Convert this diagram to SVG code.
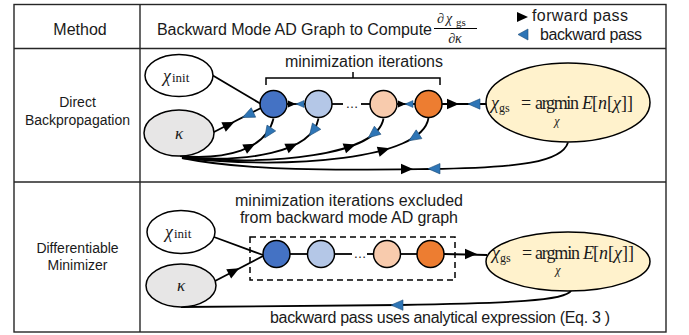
<svg xmlns="http://www.w3.org/2000/svg" xmlns:xlink="http://www.w3.org/1999/xlink" width="689" height="335" viewBox="0 0 689 335">
<defs>
<style>
.tbl{fill:none;stroke:#262626;stroke-width:1.4}
.lbl{font-family:"Liberation Sans",Arial,sans-serif;fill:#1a1a1a}
.m{font-family:"Liberation Serif","Times New Roman",serif;fill:#1a1a1a}
.it{font-style:italic}
.ln{fill:none;stroke:#000;stroke-width:1.8}
.nd{stroke:#000;stroke-width:1.5}
</style>
<polygon id="fw" points="-6,-5.2 6,0 -6,5.2" fill="#000"/>
<polygon id="bw" points="6,-5.2 -6,0 6,5.2" fill="#2e75b6" stroke="#1f4e79" stroke-width="0.6"/>
<polygon id="fws" points="-4,-3.5 4,0 -4,3.5" fill="#000"/>
<polygon id="bws" points="4,-3.5 -4,0 4,3.5" fill="#2e75b6" stroke="#1f4e79" stroke-width="0.5"/>
</defs>
<rect width="689" height="335" fill="#fff"/>

<!-- table -->
<g id="table">
<rect class="tbl" x="14" y="4.5" width="652" height="327.5"/>
<line class="tbl" x1="140" y1="4.5" x2="140" y2="332"/>
<line class="tbl" x1="14" y1="48.5" x2="666" y2="48.5"/>
<line class="tbl" x1="14" y1="182" x2="666" y2="182"/>
<text class="lbl" x="80" y="35" font-size="16" text-anchor="middle">Method</text>
<text class="lbl" x="157" y="35" font-size="16" textLength="275">Backward Mode AD Graph to Compute</text>
<text class="m" y="23" font-size="14"><tspan x="437">∂</tspan><tspan class="it" x="446">χ</tspan><tspan x="456" dy="2.5" font-size="11">gs</tspan></text>
<line x1="434" y1="28.5" x2="477" y2="28.5" stroke="#000" stroke-width="1"/>
<text class="m" x="455" y="43" font-size="14" text-anchor="middle">∂<tspan class="it">κ</tspan></text>
<polygon points="517,12 528,17 517,22" fill="#000"/>
<text class="lbl" x="532" y="21" font-size="16" textLength="96">forward pass</text>
<polygon points="528,29 518,34.5 528,40" fill="#2e75b6" stroke="#1f4e79" stroke-width="0.6"/>
<text class="lbl" x="540" y="40" font-size="16" textLength="102">backward pass</text>
<text class="lbl" x="77.5" y="107" font-size="14" text-anchor="middle">Direct</text>
<text class="lbl" x="77.5" y="125" font-size="14" text-anchor="middle">Backpropagation</text>
<text class="lbl" x="77.5" y="253" font-size="14" text-anchor="middle">Differentiable</text>
<text class="lbl" x="77.5" y="270" font-size="14" text-anchor="middle">Minimizer</text>
</g>

<!-- connectors -->
<g id="connectors">
<!-- top row -->
<line class="ln" x1="212" y1="75" x2="261" y2="104"/>
<line class="ln" x1="212" y1="133" x2="261" y2="108"/>
<path class="ln" d="M180 156 C225 160 266 150 273.5 118.5"/>
<path class="ln" d="M182 157 C245 163 312 153 318.5 118.5"/>
<path class="ln" d="M182 157 C270 166 377 156 383.5 118.5"/>
<path class="ln" d="M182 158 C290 169 422 160 428.5 118"/>
<path class="ln" d="M182 158 C250 172 350 170 430 169 C520 168 562 162 568 142.5"/>
<line class="ln" x1="287" y1="104" x2="305" y2="104"/>
<line class="ln" x1="332" y1="104" x2="343" y2="104"/>
<line class="ln" x1="361" y1="104" x2="370" y2="104"/>
<line class="ln" x1="397" y1="104" x2="415" y2="104"/>
<line class="ln" x1="442" y1="104" x2="486" y2="104"/>
<polyline fill="none" stroke="#000" stroke-width="1.5" points="266,85 266,78 440,78 440,85"/>
<line stroke="#000" stroke-width="1.5" x1="353" y1="78" x2="353" y2="72"/>
<use xlink:href="#fw" transform="translate(229,124.5) rotate(-25)"/>
<use xlink:href="#bw" transform="translate(248,115) rotate(-25)"/>
<use xlink:href="#fw" transform="translate(250,146.5) rotate(-27)"/>
<use xlink:href="#bw" transform="translate(268,133) rotate(-56)"/>
<use xlink:href="#fw" transform="translate(292,146) rotate(-24)"/>
<use xlink:href="#bw" transform="translate(313,131) rotate(-53)"/>
<use xlink:href="#fw" transform="translate(350,146.5) rotate(-19)"/>
<use xlink:href="#bw" transform="translate(373,134) rotate(-39)"/>
<use xlink:href="#fw" transform="translate(384,150) rotate(-16)"/>
<use xlink:href="#bw" transform="translate(414,137.5) rotate(-33)"/>
<use xlink:href="#fw" transform="translate(407,169)"/>
<use xlink:href="#bw" transform="translate(434,168.7)"/>
<use xlink:href="#fws" transform="translate(292,104)"/>
<use xlink:href="#bws" transform="translate(300,104)"/>
<use xlink:href="#fws" transform="translate(402,104)"/>
<use xlink:href="#bws" transform="translate(409,104)"/>
<use xlink:href="#fw" transform="translate(453,104)"/>
<use xlink:href="#bw" transform="translate(474,104)"/>
<!-- bottom row -->
<line class="ln" x1="214" y1="237" x2="263" y2="255"/>
<line class="ln" x1="215" y1="281" x2="263" y2="256"/>
<line class="ln" x1="290" y1="254" x2="308" y2="254"/>
<line class="ln" x1="334" y1="254" x2="352" y2="254"/>
<line class="ln" x1="367" y1="254" x2="374" y2="254"/>
<line class="ln" x1="400" y1="254" x2="417" y2="254"/>
<line class="ln" x1="444" y1="254" x2="487" y2="255"/>
<rect x="250" y="237" width="205" height="43" fill="none" stroke="#000" stroke-width="1.5" stroke-dasharray="6,4"/>
<path class="ln" d="M571 290.5 C566 301 510 303 400 305 L181 307"/>
<use xlink:href="#fw" transform="translate(234,271) rotate(-28)"/>
<use xlink:href="#fw" transform="translate(471,254)"/>
<use xlink:href="#bw" transform="translate(397,305.1)"/>
</g>

<!-- nodes top -->
<g id="top-chi-init">
<ellipse class="nd" cx="179" cy="75.5" rx="34" ry="21" fill="#fff"/>
<text class="m" x="163" y="82" font-size="18"><tspan class="it">χ</tspan><tspan font-size="13" dx="1">init</tspan></text>
</g>
<g id="top-kappa">
<ellipse class="nd" cx="179" cy="133" rx="35" ry="23" fill="#e7e6e6"/>
<text class="m it" x="179" y="139" font-size="17" text-anchor="middle">κ</text>
</g>
<g id="top-iter1"><circle class="nd" cx="273.5" cy="104" r="13.5" fill="#4472c4"/></g>
<g id="top-iter2"><circle class="nd" cx="318.5" cy="104" r="13.5" fill="#b4c7e7"/></g>
<g id="top-dots"><text class="lbl" x="352" y="108" font-size="13" text-anchor="middle">…</text></g>
<g id="top-iter3"><circle class="nd" cx="383.5" cy="104" r="13.5" fill="#f8cbad"/></g>
<g id="top-iter4"><circle class="nd" cx="428.5" cy="104" r="13.5" fill="#ed7d31"/></g>
<g id="top-label"><text class="lbl" x="285" y="67" font-size="16" textLength="158">minimization iterations</text></g>
<g id="top-result">
<ellipse class="nd" cx="568" cy="102.5" rx="82" ry="39.5" fill="#fff2cc"/>
<text class="m" y="108.5" font-size="18"><tspan class="it" x="491">χ</tspan><tspan dy="3" font-size="12">gs</tspan><tspan x="521" dy="-3">=</tspan><tspan x="535" textLength="44">argmin</tspan><tspan class="it" x="582">E</tspan><tspan x="592">[</tspan><tspan class="it">n</tspan><tspan>[</tspan><tspan class="it">χ</tspan><tspan>]]</tspan></text>
<text class="m it" x="557" y="125" font-size="12" text-anchor="middle">χ</text>
</g>

<!-- nodes bottom -->
<g id="bot-label">
<text class="lbl" x="349" y="206" font-size="16" text-anchor="middle" textLength="228">minimization iterations excluded</text>
<text class="lbl" x="349" y="223" font-size="16" text-anchor="middle" textLength="218">from backward mode AD graph</text>
</g>
<g id="bot-chi-init">
<ellipse class="nd" cx="181" cy="232" rx="34" ry="21.5" fill="#fff"/>
<text class="m" x="165" y="238" font-size="18"><tspan class="it">χ</tspan><tspan font-size="13" dx="1">init</tspan></text>
</g>
<g id="bot-kappa">
<ellipse class="nd" cx="181" cy="285.5" rx="35" ry="21.5" fill="#e7e6e6"/>
<text class="m it" x="181" y="291" font-size="17" text-anchor="middle">κ</text>
</g>
<g id="bot-iter1"><circle class="nd" cx="276.5" cy="254" r="13.5" fill="#4472c4"/></g>
<g id="bot-iter2"><circle class="nd" cx="321" cy="254" r="13.5" fill="#b4c7e7"/></g>
<g id="bot-dots"><text class="lbl" x="360" y="258" font-size="13" text-anchor="middle">…</text></g>
<g id="bot-iter3"><circle class="nd" cx="387" cy="254" r="13.5" fill="#f8cbad"/></g>
<g id="bot-iter4"><circle class="nd" cx="430.5" cy="254" r="13.5" fill="#ed7d31"/></g>
<g id="bot-result">
<ellipse class="nd" cx="568" cy="261.5" rx="82" ry="29.5" fill="#fff2cc"/>
<text class="m" y="258.5" font-size="18"><tspan class="it" x="492">χ</tspan><tspan dy="3" font-size="12">gs</tspan><tspan x="522" dy="-3">=</tspan><tspan x="535" textLength="45">argmin</tspan><tspan class="it" x="583">E</tspan><tspan x="593">[</tspan><tspan class="it">n</tspan><tspan>[</tspan><tspan class="it">χ</tspan><tspan>]]</tspan></text>
<text class="m it" x="558" y="274" font-size="12" text-anchor="middle">χ</text>
</g>
<g id="bot-note"><text class="lbl" x="270" y="323" font-size="16" textLength="340">backward pass uses analytical expression (Eq. 3 )</text></g>
</svg>
